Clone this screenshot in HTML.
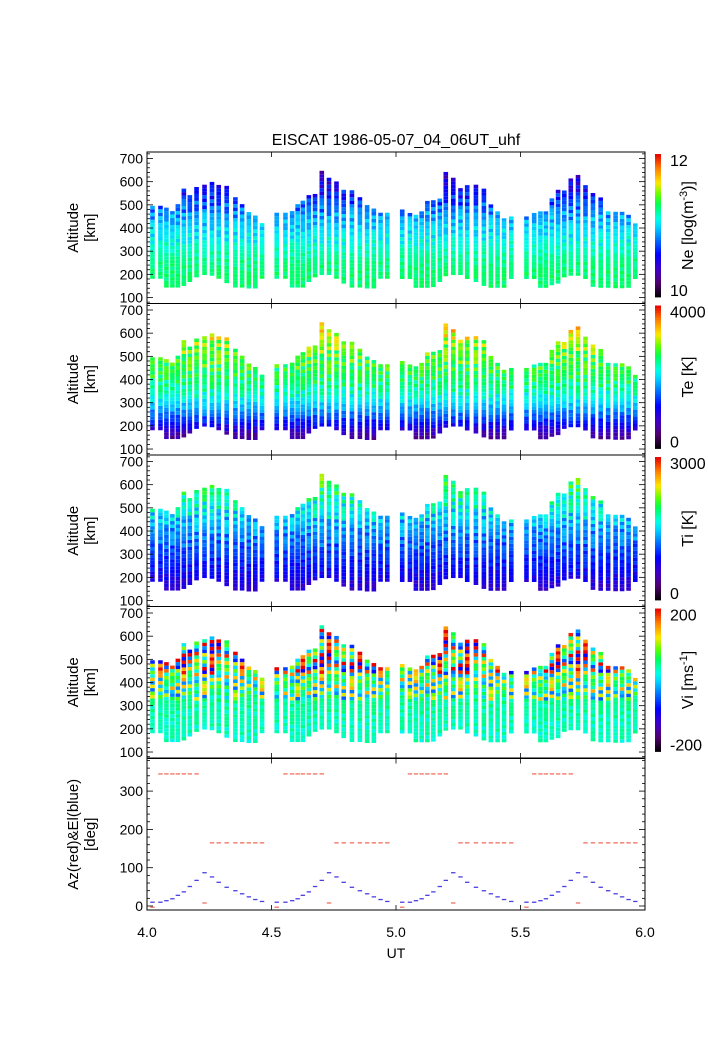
<!DOCTYPE html>
<html><head><meta charset="utf-8">
<style>
html,body{margin:0;padding:0;background:#fff;}
svg{display:block;font-family:"Liberation Sans",Arial,sans-serif;}
</style></head>
<body>
<svg id="fig" width="708" height="1063" viewBox="0 0 708 1063" xmlns="http://www.w3.org/2000/svg">
<text x="396" y="145" font-size="16" text-anchor="middle">EISCAT 1986-05-07_04_06UT_uhf</text>
<g id="plots"></g>
</svg>
<script>
// ---- data ----
const colTimes = [
 4.022,4.054,4.078,4.102,4.124,4.148,4.172,4.199,4.231,4.261,4.288,4.320,4.355,4.382,4.409,4.435,4.462,
 4.521,4.556,4.583,4.605,4.626,4.650,4.675,4.702,4.731,4.761,4.790,4.823,4.855,4.884,4.911,4.938,4.965,
 5.025,5.056,5.080,5.103,5.126,5.150,5.176,5.200,5.230,5.259,5.286,5.321,5.353,5.381,5.408,5.434,5.463,
 5.524,5.555,5.580,5.602,5.626,5.651,5.676,5.702,5.731,5.761,5.791,5.822,5.852,5.882,5.908,5.934,5.961];
const colTops = [
 493,493,479,469,493,562,535,576,576,594,583,574,525,489,462,440,412,
 458,458,462,493,504,539,539,636,611,594,553,549,525,493,479,458,456,
 475,461,447,470,514,514,514,636,611,567,583,575,569,489,470,437,437,
 444,458,458,470,514,562,562,611,625,583,544,525,470,465,465,444,410];
const colBottoms = [
 181,181,143,143,143,150,167,187,197,194,181,162,143,143,139,139,181,
 181,181,143,143,143,167,187,197,197,181,160,143,143,139,139,181,181,
 180,180,142,142,142,145,167,192,197,197,180,167,150,142,142,142,180,
 180,180,142,142,153,160,187,194,194,180,146,142,142,140,140,142,180];
const altNodes = [150,200,250,300,350,400,450,500,550,600,650];
const neProfile = [11.26,11.26,11.22,11.15,11.06,10.98,10.88,10.74,10.6,10.48,10.3];
const teProfile = [600,1200,1680,2080,2380,2560,2680,2780,2950,3250,3600];
const tiProfile = [660,840,960,1080,1200,1320,1500,1650,1800,1980,2250];
const viProfile = [30,30,35,40,50,60,70,80,80,80,80];
const jitter = [0.3,-0.5,0.8,-0.2,0.1,-0.9,0.6,-0.4,0.9,-0.7,0.2,0.5,-0.3,-0.8,0.7,0.0,-0.6,0.4,-0.1,0.95,-0.95,0.35,-0.25,0.65,-0.45,0.15,-0.85,0.55,-0.05,0.75,-0.65];
const azValues = [-3,345,345,345,345,345,345,345,8,165,165,165,165,165,165,165,165];
const elValues = [10,10,14,19,28,37,51,67,87,76,62,49,40,32,24,17,12];
const altTicks = [100,200,300,400,500,600,700];
const degTicks = [0,100,200,300];
const utTicks = [4.0,4.5,5.0,5.5,6.0];
const utTickLabels = ["4.0","4.5","5.0","5.5","6.0"];

// ---- layout ----
const NS = "http://www.w3.org/2000/svg";
const plots = document.getElementById('plots');
const X0 = 147, X1 = 645;
const panelTops = [152,303.5,455,606.5,758.5];
const PH = 151.5;
function xScale(t){ return X0 + (t-4)*(X1-X0)/2; }
function altScale(p, a){ return panelTops[p] + 6.5 + (700-a)*0.2317; }
function degScale(d){ return 906 + (-d)*0.383; }

const cmapStops = [[0,0,0,0],[0.1,80,0,110],[0.2,60,0,200],[0.3,0,0,255],[0.4,0,110,255],[0.5,0,220,255],[0.55,0,255,230],[0.65,0,255,80],[0.72,100,255,0],[0.8,255,230,0],[0.9,255,130,0],[1,230,0,0]];
function cmap(t){
  t = Math.max(0,Math.min(1,t));
  for(let i=1;i<cmapStops.length;i++){
    const a=cmapStops[i-1], b=cmapStops[i];
    if(t<=b[0]){ const f=(t-a[0])/(b[0]-a[0]);
      return 'rgb('+Math.round(a[1]+f*(b[1]-a[1]))+','+Math.round(a[2]+f*(b[2]-a[2]))+','+Math.round(a[3]+f*(b[3]-a[3]))+')'; }
  }
  return 'rgb(230,0,0)';
}
function interp(prof, a){
  if(a<=altNodes[0]) return prof[0];
  for(let i=1;i<altNodes.length;i++){ if(a<=altNodes[i]){ const f=(a-altNodes[i-1])/(altNodes[i]-altNodes[i-1]); return prof[i-1]+f*(prof[i]-prof[i-1]); } }
  return prof[prof.length-1];
}
function mk(tag, attrs, parent){
  const e=document.createElementNS(NS,tag);
  for(const k in attrs) e.setAttribute(k,attrs[k]);
  (parent||plots).appendChild(e); return e;
}
function txt(str, attrs, parent){ const e=mk('text',attrs,parent); e.textContent=str; return e; }

const params = [
 {prof:neProfile, lo:10, hi:12, aLow:0.03, aHigh:0.08, name:'ne', labHi:'12', labLo:'10', title:'Ne [log(m<tspan dy="-6" font-size="11">-3</tspan><tspan dy="6">)]</tspan>'},
 {prof:teProfile, lo:0, hi:4000, aLow:0.04, aHigh:0.09, name:'te', labHi:'4000', labLo:'0', title:'Te [K]'},
 {prof:tiProfile, lo:0, hi:3000, aLow:0.04, aHigh:0.1, name:'ti', labHi:'3000', labLo:'0', title:'Ti [K]'},
 {prof:viProfile, lo:-200, hi:200, aLow:0.04, aHigh:0.45, name:'vi', labHi:'200', labLo:'-200', title:'Vi [ms<tspan dy="-6" font-size="11">-1</tspan><tspan dy="6">]</tspan>'}
];

// ---- heatmap panels ----
params.forEach((pp,p)=>{
  const g = mk('g',{});
  
  
  const step = 15, cw = 4.6, rh = step*0.2317;
  for(let c=0;c<colTimes.length;c++){
    const cx = xScale(colTimes[c]);
    let row=0;
    for(let a=colBottoms[c]; a<colTops[c]; a+=step, row++){
      const base = (interp(pp.prof, a)-pp.lo)/(pp.hi-pp.lo);
      const amp = a>430 ? pp.aHigh : (a>320 ? (pp.aLow+pp.aHigh)/2 : pp.aLow);
      const t = base + amp*jitter[(c*7+row*3+p*5)%31];
      const r = mk('rect',{x:(cx-cw/2).toFixed(2), y:(altScale(p,a+step)).toFixed(2), width:cw, height:rh.toFixed(2), fill:cmap(t)}, g);
      
      
    }
  }
  const fr = mk('rect',{x:X0,y:panelTops[p],width:X1-X0,height:PH,fill:'none',stroke:'#000','stroke-width':1});
  
  
  for(let a=80;a<=720;a+=20){
    const y=altScale(p,a); if(y<panelTops[p]||y>panelTops[p]+PH) continue;
    const L = (a%100===0)?6:3;
    mk('line',{x1:X0,x2:X0+L,y1:y,y2:y,stroke:'#000','stroke-width':0.8});
    mk('line',{x1:X1,x2:X1-L,y1:y,y2:y,stroke:'#000','stroke-width':0.8});
  }
  altTicks.forEach(a=>{
    const t=txt(String(a),{x:X0-4,y:altScale(p,a)+5,'font-size':14,'text-anchor':'end'});
    
    
  });
  utTicks.forEach(u=>{ const x=xScale(u);
    mk('line',{x1:x,x2:x,y1:panelTops[p]+PH,y2:panelTops[p]+PH-5,stroke:'#000','stroke-width':0.8});
    mk('line',{x1:x,x2:x,y1:panelTops[p],y2:panelTops[p]+5,stroke:'#000','stroke-width':0.8}); });
  const cy = panelTops[p]+PH/2;
  const yt = txt('',{transform:'translate(78,'+cy+') rotate(-90)','font-size':15,'text-anchor':'middle'});
  yt.innerHTML='<tspan x="0" y="0">Altitude</tspan><tspan x="0" y="17">[km]</tspan>';
  
  
  const cb = mk('g',{});
  
  
  const cbTop = panelTops[p]+2, cbH = 143, N=60;
  for(let i=0;i<N;i++){
    mk('rect',{x:655,y:(cbTop+cbH*(1-(i+1)/N)).toFixed(2),width:6,height:(cbH/N+0.4).toFixed(2),fill:cmap((i+0.5)/N)},cb);
  }
  txt(pp.labHi,{x:670,y:cbTop+12,'font-size':16},cb);
  txt(pp.labLo,{x:670,y:cbTop+cbH-1,'font-size':16},cb);
  const ct = txt('',{transform:'translate(693,'+(cbTop+cbH/2)+') rotate(-90)','font-size':16,'text-anchor':'middle'},cb);
  ct.innerHTML = pp.title;
  
  
});

// ---- Az/El panel ----
{
  const top=panelTops[4];
  const g=mk('g',{});
  
  
  for(let c=0;c<colTimes.length;c++){
    const k=c%17, x=xScale(colTimes[c]);
    const az=mk('rect',{x:x-2.2,y:degScale(azValues[k])-0.6,width:4.4,height:1.3,fill:'#f07060'},g);
    
    
    const el=mk('rect',{x:x-2.2,y:degScale(elValues[k])-0.6,width:4.4,height:1.3,fill:'#4a40e0'},g);
    
    
  }
  const fr=mk('rect',{x:X0,y:top,width:X1-X0,height:PH,fill:'none',stroke:'#000','stroke-width':1});
  
  
  for(let d=0;d<=380;d+=20){
    const y=degScale(d), L=(d%100===0)?6:3;
    mk('line',{x1:X0,x2:X0+L,y1:y,y2:y,stroke:'#000','stroke-width':0.8});
    mk('line',{x1:X1,x2:X1-L,y1:y,y2:y,stroke:'#000','stroke-width':0.8});
  }
  degTicks.forEach(d=>{ const t=txt(String(d),{x:X0-4,y:degScale(d)+5,'font-size':14,'text-anchor':'end'});
    
     });
  utTicks.forEach((u,i)=>{ const x=xScale(u);
    mk('line',{x1:x,x2:x,y1:top+PH,y2:top+PH-5,stroke:'#000','stroke-width':0.8});
    mk('line',{x1:x,x2:x,y1:top,y2:top+5,stroke:'#000','stroke-width':0.8});
    const t=txt(utTickLabels[i],{x:x,y:937,'font-size':14,'text-anchor':'middle'});
    
     });
  const xt=txt('UT',{x:396,y:958,'font-size':14,'text-anchor':'middle'});
  
  
  const yt=txt('',{transform:'translate(78,'+(top+PH/2)+') rotate(-90)','font-size':15,'text-anchor':'middle'});
  yt.innerHTML='<tspan x="0" y="0">Az(red)&amp;El(blue)</tspan><tspan x="0" y="17">[deg]</tspan>';
  
  
}
</script>
</body></html>
